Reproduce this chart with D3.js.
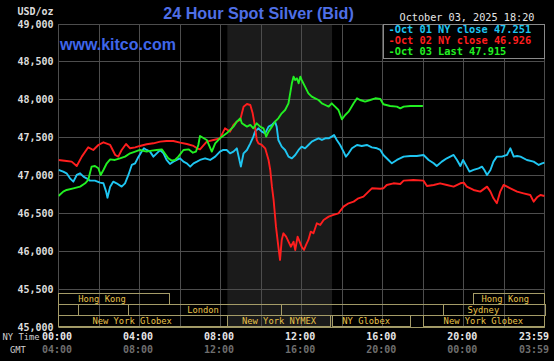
<!DOCTYPE html>
<html><head><meta charset="utf-8">
<script src="https://cdn.jsdelivr.net/npm/d3@7"></script>
<style>html,body{margin:0;padding:0;background:#000;overflow:hidden}</style>
</head><body><svg id="c" width="554" height="361"></svg>
<script>
// ---- data (time in minutes after NY midnight, value in USD/oz) ----
const oct01 = [[0,47073],[14,47051],[24,47029],[34,46963],[44,46919],[54,47007],[64,47029],[74,46985],[83,46963],[93,46932],[108,46932],[123,46906],[133,46897],[141,46787],[145,46707],[153,46853],[162,46919],[172,46897],[187,46853],[197,46897],[207,47007],[217,47139],[227,47161],[237,47249],[246,47315],[253,47359],[261,47337],[271,47315],[281,47249],[291,47293],[301,47337],[311,47293],[320,47205],[330,47152],[340,47183],[350,47205],[360,47227],[370,47183],[380,47161],[390,47117],[400,47161],[410,47183],[419,47205],[434,47227],[449,47205],[464,47249],[478,47315],[488,47337],[498,47337],[508,47293],[518,47315],[528,47359],[540,47117],[548,47293],[558,47337],[568,47425],[577,47513],[582,47579],[592,47623],[602,47579],[612,47557],[622,47645],[632,47667],[641,47711],[646,47645],[651,47469],[661,47381],[671,47337],[681,47249],[691,47227],[701,47271],[711,47337],[720,47381],[730,47359],[740,47403],[750,47447],[760,47469],[770,47491],[780,47469],[790,47491],[800,47491],[809,47513],[816,47535],[824,47469],[834,47403],[844,47315],[851,47249],[859,47293],[869,47359],[884,47403],[898,47390],[913,47403],[928,47372],[943,47359],[953,47337],[962,47271],[977,47205],[987,47161],[1002,47205],[1022,47249],[1042,47257],[1061,47257],[1081,47271],[1096,47205],[1111,47161],[1120,47125],[1135,47183],[1150,47227],[1160,47249],[1170,47271],[1180,47205],[1190,47125],[1198,47205],[1209,47117],[1217,47051],[1229,47073],[1244,47095],[1254,47117],[1261,47073],[1269,47007],[1279,47073],[1288,47183],[1298,47249],[1313,47249],[1328,47271],[1338,47359],[1348,47249],[1358,47257],[1368,47249],[1387,47205],[1407,47183],[1422,47139],[1432,47161],[1439,47170]];
const oct02 = [[0,47205],[24,47191],[39,47183],[54,47125],[69,47249],[88,47372],[103,47337],[118,47403],[133,47438],[153,47403],[168,47271],[177,47249],[187,47337],[200,47416],[212,47359],[227,47372],[241,47390],[261,47412],[281,47425],[301,47447],[320,47456],[340,47456],[360,47434],[380,47416],[400,47390],[410,47359],[419,47345],[439,47447],[459,47469],[478,47491],[493,47623],[508,47579],[518,47667],[528,47711],[538,47733],[548,47909],[558,47944],[568,47931],[575,47821],[582,47645],[587,47469],[592,47425],[602,47403],[612,47359],[622,47205],[627,47073],[632,46853],[637,46677],[644,46325],[651,46060],[656,45885],[661,46149],[666,46237],[674,46193],[681,46127],[688,46060],[696,46127],[701,46017],[708,46193],[714,46127],[720,46060],[727,46017],[733,46083],[740,46149],[747,46259],[755,46237],[765,46369],[775,46347],[785,46413],[800,46457],[814,46479],[829,46501],[844,46589],[859,46633],[874,46655],[888,46699],[903,46721],[918,46787],[928,46831],[953,46825],[962,46831],[972,46875],[992,46897],[1012,46888],[1022,46932],[1051,46941],[1081,46932],[1091,46861],[1111,46875],[1130,46897],[1150,46875],[1170,46853],[1190,46897],[1200,46906],[1209,46853],[1229,46809],[1249,46787],[1269,46853],[1279,46787],[1288,46699],[1298,46633],[1308,46787],[1318,46875],[1338,46831],[1358,46787],[1377,46765],[1397,46743],[1407,46655],[1417,46712],[1427,46743],[1439,46730]];
const oct03 = [[0,46730],[14,46787],[24,46809],[44,46831],[64,46853],[79,46897],[88,46941],[93,47029],[98,47117],[108,47125],[118,47095],[125,47007],[133,47073],[143,47161],[153,47213],[167,47205],[182,47227],[197,47249],[212,47293],[227,47315],[241,47337],[261,47315],[276,47328],[291,47337],[306,47345],[316,47284],[325,47227],[335,47196],[345,47205],[355,47249],[370,47337],[385,47345],[398,47301],[407,47315],[414,47403],[419,47521],[439,47469],[454,47315],[464,47425],[478,47491],[498,47557],[518,47645],[528,47711],[538,47755],[543,47689],[558,47645],[568,47667],[577,47623],[587,47689],[597,47645],[607,47623],[615,47513],[622,47579],[632,47645],[641,47711],[651,47755],[661,47821],[671,47865],[681,47953],[686,48085],[691,48217],[696,48305],[701,48261],[706,48283],[711,48217],[716,48305],[720,48261],[730,48173],[740,48085],[750,48041],[760,48019],[770,47997],[780,47953],[790,47931],[800,47909],[809,47953],[819,47909],[829,47865],[839,47742],[849,47799],[859,47843],[874,47953],[884,48019],[893,47997],[908,47975],[923,47997],[938,48019],[953,48010],[962,47940],[982,47918],[1002,47909],[1012,47887],[1022,47909],[1042,47918],[1079,47918]];

const legendLabels = ["-Oct 01 NY close 47.251", "-Oct 02 NY close 46.926", "-Oct 03 Last 47.915"];
const yTicks = [45000,45500,46000,46500,47000,47500,48000,48500,49000];
const xTickMinutes = [0,240,480,720,960,1200,1440];
const nyTickLabels = ["00:00","04:00","08:00","12:00","16:00","20:00","23:59"];
const gmtTickLabels = ["04:00","08:00","12:00","16:00","20:00","00:00","03:59"];
const nymexHours = [500, 810];
// sessions: row, name, start, end, label centre (minutes)
const sessions = [
  {row:0, name:"Hong Kong", start:0, end:330, labelAt:129},
  {row:0, name:"Hong Kong", start:1230, end:1440, labelAt:1323},
  {row:1, name:"", start:0, end:59, labelAt:30},
  {row:1, name:"London", start:207, end:660, labelAt:428},
  {row:1, name:"Sydney", start:1139, end:1440, labelAt:1258},
  {row:2, name:"New York Globex", start:0, end:500, labelAt:218},
  {row:2, name:"New York NYMEX", start:500, end:806, labelAt:653},
  {row:2, name:"NY Globex", start:810, end:1040, labelAt:911},
  {row:2, name:"New York Globex", start:1082, end:1440, labelAt:1258}
];

// ---- drawing ----
const svg = d3.select("#c");
const W = 554, H = 361;
const x = d3.scaleLinear().domain([0,1440]).range([58.5,544.8]);
const y = d3.scaleLinear().domain([45000,49000]).range([327,24]);
const snap = v => Math.round(v - 0.5) + 0.5;
const mono = "'DejaVu Sans Mono', monospace";
const colors = ["#1fc6f2", "#ff1e1e", "#22f022"];

svg.append("rect").attr("width", W).attr("height", H).attr("fill", "#000");

// NYMEX shading
svg.append("rect")
  .attr("x", x(nymexHours[0])).attr("width", x(nymexHours[1]) - x(nymexHours[0]))
  .attr("y", y(49000)).attr("height", y(45000) - y(49000))
  .attr("fill", "#1b1b1b");

// grid
const grid = svg.append("g").attr("stroke", "#4d4d4d").attr("stroke-width", 1);
d3.range(0, 1441, 120).forEach(m => {
  grid.append("line").attr("x1", snap(x(m))).attr("x2", snap(x(m)))
    .attr("y1", y(49000)).attr("y2", y(45000));
});
yTicks.forEach(v => {
  grid.append("line").attr("x1", x(0)).attr("x2", x(1440))
    .attr("y1", snap(y(v))).attr("y2", snap(y(v)));
});

// sessions
const rowTop = [293, 304.3, 315.7];
const rowH = 11.3;
const sess = svg.append("g");
[1,2].forEach(r => {
  sess.append("line").attr("x1", x(0)).attr("x2", x(1440))
    .attr("y1", snap(rowTop[r])).attr("y2", snap(rowTop[r]))
    .attr("stroke", "#9f9866");
});
sess.append("line").attr("x1", x(0)).attr("x2", x(1440))
  .attr("y1", snap(y(45000))).attr("y2", snap(y(45000))).attr("stroke", "#9f9866");
sessions.forEach(s => {
  sess.append("rect")
    .attr("x", snap(x(s.start))).attr("y", snap(rowTop[s.row]))
    .attr("width", Math.round(x(s.end) - x(s.start)))
    .attr("height", Math.round(rowH))
    .attr("fill", "none").attr("stroke", "#a59c68");
  if (s.name) sess.append("text")
    .attr("x", x(s.labelAt)).attr("y", rowTop[s.row] + 8.7)
    .attr("text-anchor", "middle")
    .attr("font-family", mono).attr("font-size", 8.8)
    .attr("fill", "#e8c24a").text(s.name);
});

// lines
const line = d3.line().x(d => x(d[0])).y(d => y(d[1]));
svg.append("clipPath").attr("id", "pc").append("rect")
  .attr("x", x(0)).attr("y", y(49000)).attr("width", x(1440) - x(0)).attr("height", y(45000) - y(49000));
[oct01, oct02, oct03].forEach((s, i) => {
  svg.append("path").attr("d", line(s)).attr("fill", "none")
    .attr("stroke", colors[i]).attr("stroke-width", 1.9)
    .attr("stroke-linejoin", "round").attr("clip-path", "url(#pc)");
});

// y labels
const fmt = d3.format(",");
svg.append("g").selectAll("text").data(yTicks).join("text")
  .attr("x", 53.5).attr("y", d => y(d) + 3.6)
  .attr("text-anchor", "end").attr("font-family", mono).attr("font-weight", "bold")
  .attr("font-size", 10).attr("fill", "#dcdcdc").text(d => fmt(d));
svg.append("text").attr("x", 53.5).attr("y", 15.3).attr("text-anchor", "end")
  .attr("font-family", mono).attr("font-weight", "bold").attr("font-size", 10)
  .attr("fill", "#dcdcdc").text("USD/oz");

// x labels
function xLabel(m, i) {
  const cx = x(m) - 1.5;
  return Math.min(cx, 549 - 15);
}
svg.append("g").selectAll("text").data(xTickMinutes).join("text")
  .attr("x", (d, i) => xLabel(d, i)).attr("y", 340)
  .attr("text-anchor", "middle").attr("font-family", mono).attr("font-weight", "bold")
  .attr("font-size", 10).attr("fill", "#e6e6e6").text((d, i) => nyTickLabels[i]);
svg.append("g").selectAll("text").data(xTickMinutes).join("text")
  .attr("x", (d, i) => xLabel(d, i)).attr("y", 352.7)
  .attr("text-anchor", "middle").attr("font-family", mono).attr("font-weight", "bold")
  .attr("font-size", 10).attr("fill", "#6e6e6e").text((d, i) => gmtTickLabels[i]);
svg.append("text").attr("x", 2.5).attr("y", 340).attr("font-family", mono)
  .attr("font-size", 8.8).attr("fill", "#d0d0d0").text("NY Time");
svg.append("text").attr("x", 10).attr("y", 352.5).attr("font-family", mono)
  .attr("font-size", 8.8).attr("fill", "#d0d0d0").text("GMT");

// title & branding
svg.append("text").attr("x", 258.5).attr("y", 19).attr("text-anchor", "middle")
  .attr("font-family", "'Liberation Sans', Arial, sans-serif").attr("font-weight", "bold")
  .attr("font-size", 16.2).attr("fill", "#4f6fe6").text("24 Hour Spot Silver (Bid)");
svg.append("text").attr("x", 60).attr("y", 49.5)
  .attr("font-family", "'Liberation Sans', Arial, sans-serif").attr("font-weight", "bold")
  .attr("font-size", 16).attr("fill", "#3f66ea").text("www.kitco.com");
svg.append("text").attr("x", 399.5).attr("y", 20.5)
  .attr("font-family", mono).attr("font-size", 10.2).attr("fill", "#e6e6e6")
  .text("October 03, 2025 18:20");

// legend
const lg = svg.append("g");
lg.append("rect").attr("x", 383.5).attr("y", 24.5).attr("width", snap(x(1440)) - 383.5).attr("height", 34)
  .attr("fill", "#000").attr("stroke", "#8a8a8a");
legendLabels.forEach((t, i) => {
  lg.append("text").attr("x", 388.5).attr("y", 33.2 + i * 11)
    .attr("font-family", mono).attr("font-weight", "bold").attr("font-size", 10.3)
    .attr("fill", colors[i]).text(t);
});
</script></body></html>
